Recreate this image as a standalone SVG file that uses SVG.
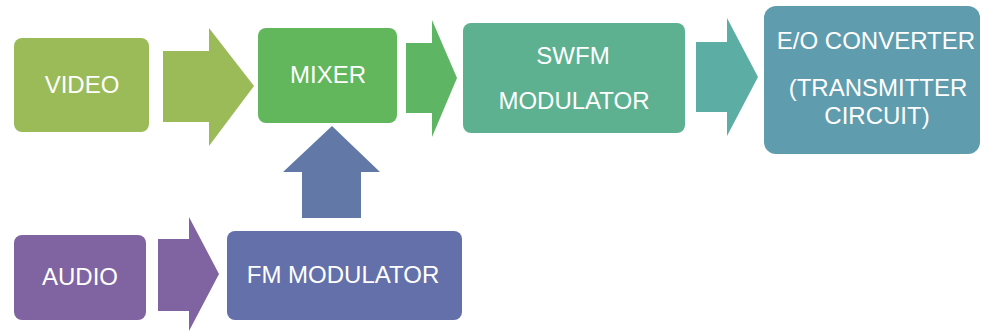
<svg xmlns="http://www.w3.org/2000/svg" width="982" height="331" viewBox="0 0 982 331">
  <style>
    .lbl { font-family: "Liberation Sans", Arial, sans-serif; font-size: 24px; fill: #ffffff; text-anchor: middle; }
  </style>
  <rect width="982" height="331" fill="#ffffff"/>

  <!-- block arrows -->
  <g id="connectors">
    <polygon points="163,51 209,51 209,28 254,86 209,146 209,122 163,122" fill="#9BBB59"/>
    <polygon points="406,43 432,43 432,20 457,78 432,137 432,113 406,113" fill="#5EB564"/>
    <polygon points="696,42 727,42 727,18 758,77 727,136 727,112 696,112" fill="#5CAEA4"/>
    <polygon points="302,218 302,172 283,172 332,126 380,172 361,172 361,218" fill="#6279A8"/>
    <polygon points="158,239 189,239 189,217 219,274 189,331 189,311 158,311" fill="#8064A2"/>
  </g>

  <g id="video">
    <rect x="14" y="38" width="135" height="94" rx="8" fill="#9BBB59"/>
    <text class="lbl" x="82" y="93">VIDEO</text>
  </g>

  <g id="mixer">
    <rect x="258" y="28" width="139" height="95" rx="8" fill="#62B65C"/>
    <text class="lbl" x="328" y="83">MIXER</text>
  </g>

  <g id="swfm">
    <rect x="463" y="23" width="222" height="110" rx="8" fill="#5DB190"/>
    <text class="lbl"><tspan x="573" y="64">SWFM</tspan><tspan x="574" y="109">MODULATOR</tspan></text>
  </g>

  <g id="eo-converter">
    <rect x="764" y="6" width="216" height="148" rx="12" fill="#5F9CAE"/>
    <text class="lbl"><tspan x="876" y="49">E/O CONVERTER</tspan><tspan x="878" y="96">(TRANSMITTER</tspan><tspan x="877" y="124">CIRCUIT)</tspan></text>
  </g>

  <g id="audio">
    <rect x="14" y="235" width="132" height="85" rx="8" fill="#8064A2"/>
    <text class="lbl" x="80" y="285">AUDIO</text>
  </g>

  <g id="fm-modulator">
    <rect x="227" y="231" width="235" height="89" rx="8" fill="#6370AA"/>
    <text class="lbl" x="343" y="283">FM MODULATOR</text>
  </g>
</svg>
